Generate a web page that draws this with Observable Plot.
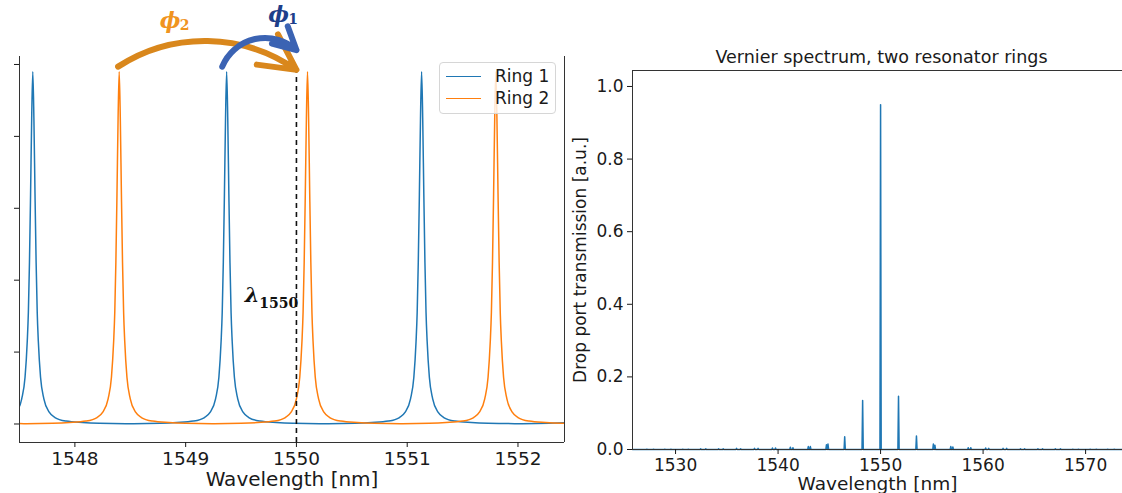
<!DOCTYPE html>
<html>
<head>
<meta charset="utf-8">
<script src="https://cdn.jsdelivr.net/npm/d3@7"></script>
<script src="https://cdn.jsdelivr.net/npm/@observablehq/plot@0.6"></script>
<style>
  html, body { margin: 0; padding: 0; background: #fff; }
  #wrap { position: relative; width: 1122px; height: 493px; overflow: hidden; background: #fff; font-family: "DejaVu Sans", sans-serif; }
  #left, #right { position: absolute; top: 0; }
  #left { left: 0; }
  #right { left: 560px; }
  #legend { position: absolute; left: 439px; top: 62px; width: 115px; height: 50px; border: 1px solid #d6d6d6; border-radius: 4px; background: rgba(255,255,255,0.8); font-size: 17px; color: #1a1a1a; }
  .lg { position: absolute; left: 6px; height: 22px; display: flex; align-items: center; }
  .lg span.sw { display: inline-block; width: 35px; height: 0; border-top: 1.5px solid; margin-right: 14px; }
</style>
</head>
<body>
<div id="wrap">
  <div id="left"></div>
  <div id="right"></div>
  <div id="legend">
    <div class="lg" style="top:2px"><span class="sw" style="border-color:#1f77b4"></span>Ring 1</div>
    <div class="lg" style="top:24px"><span class="sw" style="border-color:#ff7f0e"></span>Ring 2</div>
  </div>
</div>
<script>
// ---------- Left panel data (two ring resonances) ----------
const ring1Peaks = [1545.87, 1547.62, 1549.37, 1551.13, 1552.88];
const ring2Peaks = [1546.70, 1548.40, 1550.10, 1551.80, 1553.50];
// resonance line shape: offset from centre [nm] -> level
const profileOffset = [0, 0.01, 0.02, 0.03, 0.04, 0.05, 0.07, 0.10, 0.15, 0.20, 0.30, 0.45, 0.60, 0.84];
const profileLevel  = [0.98, 0.85, 0.64, 0.45, 0.31, 0.23, 0.13, 0.07, 0.032, 0.018, 0.008, 0.004, 0.002, 0.001];
const leftXTicks = [1548, 1549, 1550, 1551, 1552];
const leftYTicks = [0, 0.2, 0.4, 0.6, 0.8, 1.0];
const marker1550 = 1550;
const arrowPhi2 = [{x1: 1548.39, y1: 0.994, x2: 1550.0, y2: 0.985}];
const arrowPhi1 = [{x1: 1549.33, y1: 0.994, x2: 1550.0, y2: 1.040}];
const phiGlyphs = [
  {t: "ϕ", x: 1548.86, y: 1.122, color: "#f0941f"},
  {t: "ϕ", x: 1549.84, y: 1.138, color: "#1e3f8a"}
];
const phiSubs = [
  {t: "2", x: 1548.99, y: 1.108, color: "#f0941f"},
  {t: "1", x: 1549.97, y: 1.124, color: "#1e3f8a"}
];
const lambdaGlyph = [{t: "λ", x: 1549.60, y: 0.357}];
const lambdaSub = [{t: "1550", x: 1549.84, y: 0.336}];

// ---------- Right panel data (Vernier spectrum) ----------
const spikeWl = [
  1527.2, 1527.85, 1528.95, 1529.55, 1530.7, 1531.25, 1532.45, 1532.95, 1534.2, 1534.65,
  1535.95, 1536.35, 1537.7, 1538.05, 1539.45, 1539.75, 1541.2, 1541.45, 1542.95, 1543.15,
  1544.72, 1544.87, 1546.5, 1548.25, 1550.0, 1551.75, 1553.5, 1555.15, 1555.3,
  1556.85, 1557.05, 1558.55, 1558.8, 1560.25, 1560.55, 1561.95, 1562.3, 1563.65, 1564.05,
  1565.35, 1565.8, 1567.05, 1567.55, 1568.75, 1569.3, 1570.45, 1571.05, 1572.15, 1572.8
];
const spikeT = [
  0.001, 0.001, 0.001, 0.001, 0.001, 0.001, 0.002, 0.002, 0.002, 0.002,
  0.003, 0.002, 0.003, 0.003, 0.004, 0.004, 0.006, 0.005, 0.008, 0.008,
  0.013, 0.015, 0.035, 0.135, 0.95, 0.147, 0.037, 0.015, 0.012,
  0.008, 0.007, 0.005, 0.005, 0.004, 0.003, 0.003, 0.003, 0.002, 0.002,
  0.002, 0.002, 0.002, 0.002, 0.001, 0.001, 0.001, 0.001, 0.001, 0.001
];
const rightXTicks = [1530, 1540, 1550, 1560, 1570];
const rightYTicks = [0, 0.2, 0.4, 0.6, 0.8, 1.0];
const rightTitle = "Vernier spectrum, two resonator rings";
const rightYLabel = "Drop port transmission [a.u.]";
const xLabel = "Wavelength [nm]";

// ---------- build tables ----------
function ringRows(peaks, ring) {
  const rows = [];
  peaks.forEach((p) => {
    profileOffset.forEach((o, j) => {
      rows.push({ring, x: p + o, y: profileLevel[j]});
      if (o > 0) rows.push({ring, x: p - o, y: profileLevel[j]});
    });
  });
  return rows.sort((a, b) => a.x - b.x);
}
const ring1 = ringRows(ring1Peaks, "Ring 1");
const ring2 = ringRows(ring2Peaks, "Ring 2");

const xL = [1547.5, 1552.42];
const yL = [-0.0515, 1.0222];

const font = {fontFamily: "DejaVu Sans, sans-serif", fontSize: "17px", color: "#1a1a1a", background: "transparent", overflow: "visible"};
const serif = "DejaVu Serif, serif";

const left = Plot.plot({
  width: 570, height: 493,
  marginLeft: 19, marginRight: 6, marginTop: 56, marginBottom: 51,
  style: {...font, background: "#fff"},
  x: {domain: xL},
  y: {domain: yL},
  marks: [
    Plot.line(ring1, {x: "x", y: "y", stroke: "#1f77b4", strokeWidth: 1.5, curve: "monotone-x", clip: true}),
    Plot.line(ring2, {x: "x", y: "y", stroke: "#ff7f0e", strokeWidth: 1.5, curve: "monotone-x", clip: true}),
    Plot.ruleX([marker1550], {y1: yL[0], y2: 0.985, stroke: "#111", strokeWidth: 1.6, strokeDasharray: "5,4"}),
    Plot.ruleX([xL[0], xL[1]], {stroke: "#333", strokeWidth: 1}),
    Plot.ruleY([yL[0]], {stroke: "#333", strokeWidth: 1}),
    Plot.axisX({ticks: leftXTicks, tickSize: 5, tickPadding: 4, fontSize: 18.5, label: null, tickFormat: d => String(d)}),
    Plot.axisY({ticks: leftYTicks, tickSize: 5, tickFormat: () => "", label: null}),
    Plot.text([xLabel], {frameAnchor: "bottom", lineAnchor: "middle", text: d => d, fontSize: 20, dy: 37}),
    Plot.arrow(arrowPhi2, {x1: "x1", y1: "y1", x2: "x2", y2: "y2", stroke: "#d9871c", bend: 34, strokeWidth: 6, headLength: 10, headAngle: 55}),
    Plot.arrow(arrowPhi1, {x1: "x1", y1: "y1", x2: "x2", y2: "y2", stroke: "#3b63b3", bend: 55, strokeWidth: 6, headLength: 10, headAngle: 55}),
    Plot.text(phiGlyphs, {x: "x", y: "y", text: "t", fill: "color", fontSize: 22, fontWeight: "bold", fontStyle: "italic", fontFamily: serif}),
    Plot.text(phiSubs, {x: "x", y: "y", text: "t", fill: "color", fontSize: 14, fontWeight: "bold", fontFamily: serif}),
    Plot.text(lambdaGlyph, {x: "x", y: "y", text: "t", fill: "#111", fontSize: 21, fontWeight: "bold", fontStyle: "italic", fontFamily: serif}),
    Plot.text(lambdaSub, {x: "x", y: "y", text: "t", fill: "#111", fontSize: 14, fontWeight: "bold", fontFamily: serif})
  ]
});
document.getElementById("left").append(left);

// right panel
const xR = [1525.8, 1573.6];
const yR = [0, 1.044];
const spikes = [{x: xR[0], y: 0}];
spikeWl.forEach((w, i) => {
  spikes.push({x: w - 0.06, y: 0}, {x: w, y: spikeT[i]}, {x: w + 0.06, y: 0});
});
spikes.push({x: xR[1], y: 0});

const right = Plot.plot({
  width: 562, height: 493,
  marginLeft: 72, marginRight: 0, marginTop: 70, marginBottom: 44,
  style: font,
  x: {domain: xR},
  y: {domain: yR},
  marks: [
    Plot.line(spikes, {x: "x", y: "y", stroke: "#1f77b4", strokeWidth: 1.5}),
    Plot.ruleX([xR[0]], {stroke: "#333", strokeWidth: 1}),
    Plot.ruleY([yR[0], yR[1]], {stroke: "#333", strokeWidth: 1}),
    Plot.axisX({ticks: rightXTicks, tickSize: 5, tickPadding: 4, fontSize: 17, label: null, tickFormat: d => String(d)}),
    Plot.axisY({ticks: rightYTicks, tickSize: 5, tickPadding: 4, fontSize: 17, label: null, tickFormat: d3.format(".1f")}),
    Plot.text([rightTitle], {frameAnchor: "top", lineAnchor: "middle", text: d => d, fontSize: 17.5, dy: -13, dx: 4}),
    Plot.text([rightYLabel], {frameAnchor: "left", textAnchor: "middle", lineAnchor: "middle", text: d => d, fontSize: 17, rotate: -90, dx: -52}),
    Plot.text([xLabel], {frameAnchor: "bottom", lineAnchor: "middle", text: d => d, fontSize: 18.5, dy: 35})
  ]
});
document.getElementById("right").append(right);
</script>
</body>
</html>
